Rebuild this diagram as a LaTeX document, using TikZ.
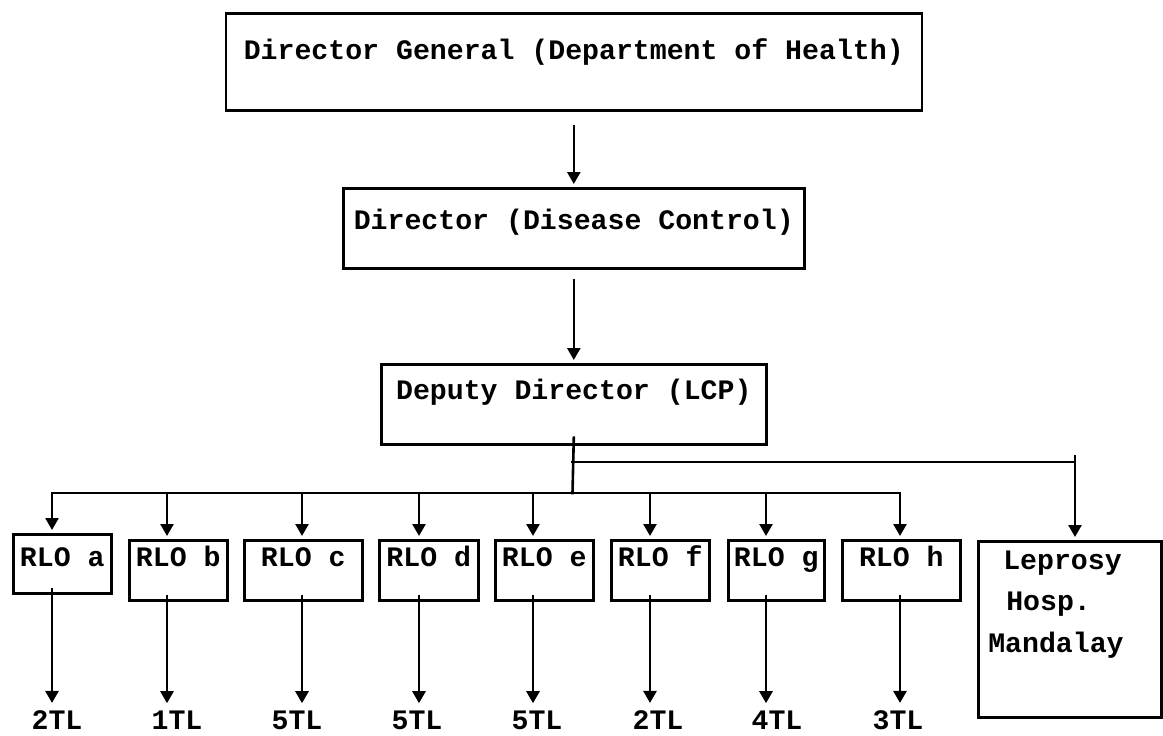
\documentclass[tikz,border=0pt]{standalone}
\usepackage{fontspec}
\usetikzlibrary{arrows.meta}
\newfontfamily\chartfont{Liberation Mono}

\begin{document}
\begin{tikzpicture}[x=1pt, y=-1pt,
  box/.style={draw, line width=2.6pt, anchor=north west, inner xsep=0pt, inner ysep=0pt,
    font=\chartfont\bfseries\fontsize{28.2pt}{41.5pt}\selectfont},
  lab/.style={anchor=base, inner sep=4pt, font=\chartfont\bfseries\fontsize{28.2pt}{34pt}\selectfont},
  arr/.style={line width=2.6pt, -{Triangle[width=13pt,length=12pt]}, shorten >=3pt},
  bus/.style={line width=2.6pt, line cap=rect}]
\useasboundingbox (0,0) rectangle (1163,736);

% Head office boxes
\node[box, minimum width=696pt, text height=46pt, text depth=51pt] (dg) at (224.5,12) {Director General (Department of Health)};
\node[box, minimum width=461pt, text height=41pt, text depth=39pt] (dc) at (342,187) {Director (Disease Control)};
\node[box, minimum width=385pt, text height=35pt, text depth=45pt] (lcp) at (380,363) {Deputy Director (LCP)};

% Regional offices and the hospital
\node[box, minimum width=98pt, text height=32pt, text depth=27pt] (ra) at (12,533) {RLO a};
\node[box, minimum width=98pt, text height=26pt, text depth=34pt] (rb) at (128,539) {RLO b};
\node[box, minimum width=118pt, text height=26pt, text depth=34pt] (rc) at (243,539) {RLO c};
\node[box, minimum width=99pt, text height=26pt, text depth=34pt] (rd) at (378,539) {RLO d};
\node[box, minimum width=98pt, text height=26pt, text depth=34pt] (re) at (494,539) {RLO e};
\node[box, minimum width=98pt, text height=26pt, text depth=34pt] (rf) at (610,539) {RLO f};
\node[box, minimum width=96pt, text height=26pt, text depth=34pt] (rg) at (727,539) {RLO g};
\node[box, minimum width=118pt, text height=26pt, text depth=34pt] (rh) at (841,539) {RLO h};
\node[box, text width=163pt, align=left, inner xsep=10pt, text height=28pt, text depth=148pt] (lep) at (977,540)
  {\hspace*{15pt}Leprosy\\\hspace*{18pt}Hosp.\\Mandalay};

% Team leader counts
\node[lab] (ta) at (57,729) {2TL};
\node[lab] (tb) at (177,729) {1TL};
\node[lab] (tc) at (297,729) {5TL};
\node[lab] (td) at (417,729) {5TL};
\node[lab] (te) at (537,729) {5TL};
\node[lab] (tf) at (658,729) {2TL};
\node[lab] (tg) at (777,729) {4TL};
\node[lab] (th) at (898,729) {3TL};

% Bus points
\coordinate (upper) at (572.5,462);
\coordinate (lower) at (572.5,493);
\coordinate (hosp) at (1075,462);
\coordinate (ba) at (52,493);
\coordinate (bb) at (167,493);
\coordinate (bc) at (302,493);
\coordinate (bd) at (419,493);
\coordinate (be) at (533,493);
\coordinate (bf) at (650,493);
\coordinate (bg) at (766,493);
\coordinate (bh) at (900,493);

% Connectors
\draw[arr] ([yshift=-13pt]dg.south) -- (dc.north);
\draw[arr] ([yshift=-9pt]dc.south) -- (lcp.north);
\draw[bus] ([yshift=8pt]lcp.south) -- (lower);
\draw[bus] (upper) -- (hosp);
\draw[arr] ([yshift=7pt]hosp) -- (hosp |- lep.north);
\draw[bus] (ba) -- (bh);
\draw[arr] (ba) -- (ba |- ra.north);
\draw[arr] (bb) -- (bb |- rb.north);
\draw[arr] (bc) -- (bc |- rc.north);
\draw[arr] (bd) -- (bd |- rd.north);
\draw[arr] (be) -- (be |- re.north);
\draw[arr] (bf) -- (bf |- rf.north);
\draw[arr] (bg) -- (bg |- rg.north);
\draw[arr] (bh) -- (bh |- rh.north);
\draw[arr] ([yshift=7pt]ba |- ra.south) -- (ba |- ta.north);
\draw[arr] ([yshift=7pt]bb |- rb.south) -- (bb |- tb.north);
\draw[arr] ([yshift=7pt]bc |- rc.south) -- (bc |- tc.north);
\draw[arr] ([yshift=7pt]bd |- rd.south) -- (bd |- td.north);
\draw[arr] ([yshift=7pt]be |- re.south) -- (be |- te.north);
\draw[arr] ([yshift=7pt]bf |- rf.south) -- (bf |- tf.north);
\draw[arr] ([yshift=7pt]bg |- rg.south) -- (bg |- tg.north);
\draw[arr] ([yshift=7pt]bh |- rh.south) -- (bh |- th.north);
\end{tikzpicture}
\end{document}
